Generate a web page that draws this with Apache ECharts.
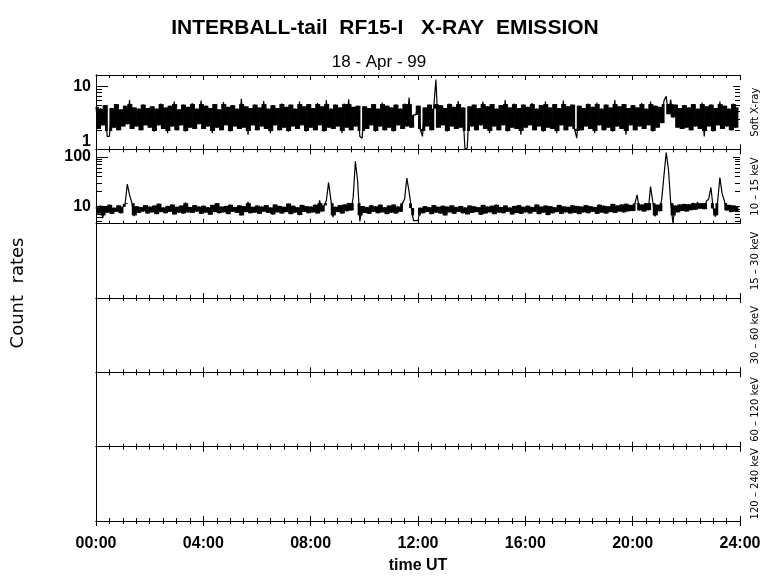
<!DOCTYPE html>
<html>
<head>
<meta charset="utf-8">
<script src="https://cdn.jsdelivr.net/npm/echarts@6/dist/echarts.min.js"></script>
<style>
  html, body { margin: 0; padding: 0; background: #fff; }
  #chart { width: 780px; height: 579px; }
</style>
</head>
<body>
<div id="chart"></div>
<script>
// 5-minute samples, 00:00 .. 23:55 UT
const stepMin = 5

// Soft X-ray counts (panel 1)
const softXray = [
  4.7,2.1,4.4,2.4,5.0,1.6,1.6,4.5,2.2,5.2,2.0,4.3,2.3,4.9,2.5,6.0,2.1,4.6,2.3,4.4,2.0,5.1,2.4,4.5,
  2.2,4.8,1.9,4.4,2.4,5.3,2.1,4.6,1.8,4.9,2.3,5.7,2.0,4.3,2.4,5.1,1.9,4.7,2.2,5.4,2.1,4.4,2.5,5.9,
  2.1,4.9,2.3,4.5,1.8,5.2,2.2,4.3,2.0,5.6,2.4,4.7,1.9,5.0,2.3,4.4,2.1,6.3,2.2,4.8,1.7,4.5,2.4,5.1,
  2.0,4.6,2.3,5.8,2.1,4.4,1.8,5.0,2.4,4.5,2.0,5.3,2.2,4.7,1.9,5.1,2.3,4.4,2.1,5.7,2.4,4.8,1.9,5.2,
  2.2,4.5,2.0,5.4,2.4,4.8,1.9,6.0,2.2,4.4,2.1,5.1,2.3,4.6,1.8,5.3,2.2,6.2,2.0,4.7,2.3,4.9,1.6,1.5,
  4.8,2.1,4.5,2.4,5.2,1.9,4.4,2.3,5.5,2.0,4.9,2.2,4.6,1.9,5.1,2.4,4.4,2.1,5.3,2.3,6.6,2.2,3.5,3.5,
  4.9,2.1,1.6,4.6,2.3,5.1,2.0,4.4,12.7,2.2,5.0,2.4,4.5,1.9,5.3,2.3,4.7,2.1,5.8,2.2,4.6,1.0,1.05,4.8,
  2.3,5.1,2.0,4.5,2.4,5.7,2.1,4.8,1.8,5.2,2.3,4.4,2.0,5.0,2.4,6.0,1.9,4.6,2.2,5.3,2.1,4.5,1.7,5.1,
  2.2,4.7,2.4,5.4,2.0,4.4,2.3,5.0,1.9,5.7,2.2,4.6,2.1,5.2,1.8,4.5,2.4,5.9,2.0,4.8,2.3,5.1,2.1,1.5,
  4.9,2.0,4.5,2.3,5.3,2.1,4.7,1.8,5.5,2.4,4.4,2.0,5.1,2.2,4.6,1.9,6.0,2.3,4.8,2.1,5.2,1.7,4.5,2.4,
  5.0,2.0,4.6,2.3,5.4,2.1,4.4,2.4,5.7,1.9,4.9,2.2,4.7,2.6,5.9,6.9,3.6,6.1,3.2,5.1,2.2,4.5,2.1,5.0,
  2.2,4.6,2.0,5.2,2.3,4.4,2.1,5.5,1.6,4.8,2.3,5.1,1.9,4.5,2.4,5.7,2.1,4.9,2.3,4.4,2.0,5.3,2.2,4.6
]

// 10 - 15 keV counts (panel 2)
const band10_15 = [
  9.6,7.2,10.3,5.8,9.9,7.5,10.8,7.1,9.4,7.8,10.5,7.3,9.8,11.2,28,17,12,6.4,10.1,7.4,9.7,7.9,10.6,7.2,
  9.9,7.6,10.4,7.0,11.3,7.7,9.5,7.3,10.2,7.8,10.9,6.9,9.8,7.5,10.4,7.2,12.1,7.6,9.7,7.4,10.6,7.9,9.9,7.1,
  10.3,7.5,9.6,6.8,10.7,7.7,11.6,7.3,9.9,7.6,10.2,7.0,10.8,7.8,9.7,7.4,10.5,6.6,10.1,7.7,12.3,7.3,9.8,7.5,
  10.4,7.1,9.9,7.8,10.6,7.4,9.5,6.9,10.9,7.6,10.2,7.2,9.8,7.7,11.4,7.0,10.3,7.5,9.6,6.7,10.7,7.8,10.1,7.3,
  9.9,7.6,10.8,7.2,13.2,7.9,10.5,13,30,14,6.1,9.8,7.7,10.6,7.2,10.9,8.0,11.8,8.3,15,81,32,5.0,10.2,
  7.4,9.7,7.1,10.5,7.8,10.0,7.3,10.8,7.6,9.6,7.0,10.4,7.5,10.9,7.2,9.9,7.8,11.5,14,37,20,9.3,5.2,5.2,
  5.2,9.4,7.3,10.1,7.7,9.6,7.0,10.6,7.5,9.8,7.2,10.3,6.6,9.9,7.6,10.5,7.1,9.7,7.8,10.2,7.3,9.5,6.9,10.4,
  7.4,10.0,7.7,9.6,6.8,10.7,7.2,9.9,7.6,10.3,7.0,10.8,7.5,9.7,7.3,10.4,7.8,9.5,6.9,10.2,7.4,10.6,7.1,9.8,
  7.6,10.3,7.2,9.7,7.8,10.9,7.0,9.9,7.5,10.4,6.7,10.1,7.3,9.6,7.7,10.7,7.1,10.0,7.6,9.8,7.2,10.5,7.4,10.2,
  7.0,9.9,7.6,10.6,7.3,10.1,7.8,9.7,7.1,10.8,7.5,10.3,7.2,10.0,7.7,11.2,7.4,10.4,7.9,10.9,7.6,11.3,8.0,10.7,
  8.1,11.4,17,8.3,10.9,7.9,11.6,8.4,25,12.4,6.3,10.8,8.0,14,42,120,55,12,4.7,10.4,7.6,10.9,8.1,11.2,
  7.9,11.0,8.4,11.8,8.6,12.3,9.0,11.6,8.8,12.8,14,24,9.1,6.2,12.5,38,18,13,8.3,10.7,7.7,10.4,7.9,10.1
]

const panelNames = ['Soft X-ray', '10 – 15 keV', '15 – 30 keV', '30 – 60 keV', '60 – 120 keV', '120 – 240 keV']
const panelSeries = [softXray, band10_15, null, null, null, null]
// limits of the densely filled noise band in each panel
const noiseCore = [[1.95, 5.2], [6.6, 11.6]]
const yRanges = [[1, 15], [4.5, 140], null, null, null, null]
const yLabels = [[1, 10], [10, 100]]
const yMinorTicks = [[2, 3, 4, 5, 6, 7, 8, 9], [5, 6, 7, 8, 9, 20, 30, 40, 50, 60, 70, 80, 90]]

const chart = echarts.init(document.getElementById('chart'))

const panelTop = 75
const panelH = 74.33
const nPanels = panelNames.length

const grid = [], xAxis = [], yAxis = [], series = []

const axisLine = { show: true, lineStyle: { color: '#000', width: 1 } }

for (let g = 0; g < nPanels; g++) {
  grid.push({ left: 96, right: 40, top: panelTop + g * panelH, height: panelH, outerBoundsMode: 'none' })
  const last = g === nPanels - 1
  ;['bottom', 'top'].forEach(pos => {
    xAxis.push({
      type: 'value', gridIndex: g, position: pos,
      min: 0, max: 24, interval: 4,
      axisLine: axisLine,
      axisTick: { show: true, inside: true, length: 5, lineStyle: { color: '#000' } },
      minorTick: { show: true, splitNumber: 8, length: 3, lineStyle: { color: '#000' } },
      splitLine: { show: false },
      axisLabel: {
        show: last && pos === 'bottom', margin: 15,
        color: '#000', fontFamily: 'Liberation Sans', fontWeight: 'bold', fontSize: 16,
        formatter: v => (v < 10 ? '0' : '') + v + ':00'
      },
      name: last && pos === 'bottom' ? 'time UT' : '',
      nameLocation: 'middle', nameGap: 37,
      nameTextStyle: { color: '#000', fontFamily: 'Liberation Sans', fontWeight: 'bold', fontSize: 16 }
    })
  })
  const rng = yRanges[g]
  yAxis.push({
    type: rng ? 'log' : 'value', logBase: 10, gridIndex: g, position: 'left',
    min: rng ? rng[0] : 0, max: rng ? rng[1] : 1,
    axisLine: axisLine,
    axisTick: { show: false },
    splitLine: { show: false },
    axisLabel: {
      show: !!rng, margin: 5, showMaxLabel: false,
      verticalAlignMinLabel: 'bottom',
      color: '#000', fontFamily: 'Liberation Sans', fontWeight: 'bold', fontSize: 16,
      formatter: v => {
        const r = Math.round(v * 1000) / 1000
        return rng && yLabels[g].includes(r) ? String(r) : ''
      }
    }
  })
  yAxis.push({
    type: 'value', gridIndex: g, position: 'right', min: 0, max: 1,
    axisLine: axisLine,
    axisTick: { show: false }, axisLabel: { show: false }, splitLine: { show: false },
    name: panelNames[g], nameLocation: 'middle', nameRotate: 90, nameGap: 10,
    nameTextStyle: { color: '#000', fontFamily: 'DejaVu Sans', fontSize: 10 }
  })

  const vals = panelSeries[g]
  if (vals) {
    const times = vals.map((v, i) => i * stepMin / 60)
    // solid fill of each sample-to-sample swing inside the noise band
    const core = noiseCore[g]
    const fillData = []
    for (let i = 0; i < vals.length - 1; i++) {
      const lo = Math.max(Math.min(vals[i], vals[i + 1]), core[0])
      const hi = Math.min(Math.max(vals[i], vals[i + 1]), core[1])
      if (hi > lo) fillData.push([times[i], times[i + 1], lo, hi])
    }
    series.push({
      type: 'custom', xAxisIndex: 2 * g, yAxisIndex: 2 * g, silent: true,
      encode: { x: [0, 1], y: [2, 3] },
      data: fillData,
      renderItem: (params, api) => {
        const a = api.coord([api.value(0), api.value(3)])
        const b = api.coord([api.value(1), api.value(2)])
        return {
          type: 'rect',
          shape: { x: a[0], y: a[1], width: b[0] - a[0] + 0.6, height: b[1] - a[1] },
          style: { fill: '#000' }
        }
      }
    })
    // the trace itself (carries the spikes beyond the band)
    series.push({
      type: 'line', xAxisIndex: 2 * g, yAxisIndex: 2 * g,
      showSymbol: false, symbol: 'none', sampling: null,
      lineStyle: { color: '#000', width: 1.2 },
      data: vals.map((v, i) => [times[i], v]),
      silent: true
    })
    // log-axis ticks (major + minor), on left and right edges
    const tickData = yLabels[g].map(v => [0, v, 1]).concat(yMinorTicks[g].map(v => [0, v, 0]))
    series.push({
      type: 'custom', xAxisIndex: 2 * g, yAxisIndex: 2 * g, clip: false, silent: true, z: 5,
      data: tickData,
      renderItem: (params, api) => {
        const v = api.value(1)
        const major = api.value(2) === 1
        const pl = api.coord([0, v])
        const pr = api.coord([24, v])
        const y = Math.round(pl[1]) + 0.5
        const l1 = major ? 12 : 6
        const l2 = major ? 7 : 5
        return {
          type: 'group',
          children: [
            { type: 'line', shape: { x1: pl[0], y1: y, x2: pl[0] + l1, y2: y }, style: { stroke: '#000', lineWidth: 1 } },
            { type: 'line', shape: { x1: pr[0] - l2, y1: y, x2: pr[0], y2: y }, style: { stroke: '#000', lineWidth: 1 } }
          ]
        }
      }
    })
  }
}

chart.setOption({
  backgroundColor: '#fff',
  animation: false,
  grid, xAxis, yAxis, series,
  graphic: [
    {
      type: 'text', x: 385, y: 28,
      style: {
        text: 'INTERBALL-tail  RF15-I   X-RAY  EMISSION',
        fontFamily: 'Liberation Sans', fontWeight: 'bold', fontSize: 21, fill: '#000',
        align: 'center', verticalAlign: 'middle', textAlign: 'center', textVerticalAlign: 'middle'
      }
    },
    {
      type: 'text', x: 379, y: 62,
      style: {
        text: '18 - Apr - 99',
        fontFamily: 'Liberation Sans', fontSize: 17, fill: '#000',
        align: 'center', verticalAlign: 'middle', textAlign: 'center', textVerticalAlign: 'middle'
      }
    },
    {
      type: 'text', x: 18, y: 293, rotation: Math.PI / 2,
      style: {
        text: 'Count  rates',
        fontFamily: 'DejaVu Sans', fontSize: 18, fill: '#000',
        align: 'center', verticalAlign: 'middle', textAlign: 'center', textVerticalAlign: 'middle'
      }
    }
  ]
})
</script>
</body>
</html>
